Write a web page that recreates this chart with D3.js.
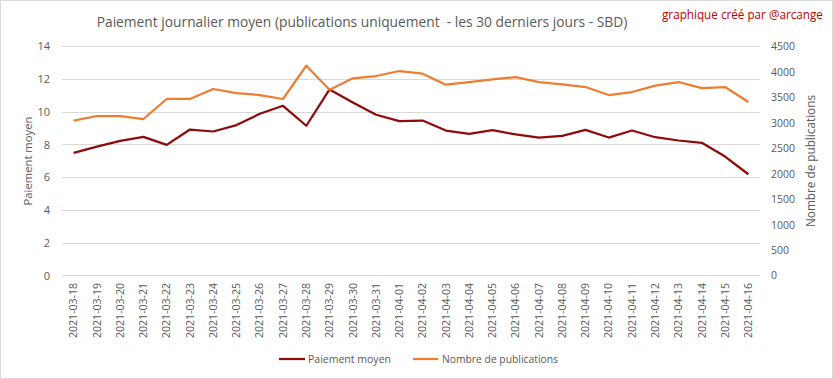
<!DOCTYPE html>
<html><head><meta charset="utf-8">
<script src="https://cdn.jsdelivr.net/npm/d3@7"></script>
<style>body{margin:0;background:#fff}svg{display:block}</style>
</head><body>
<svg id="c" width="833" height="379"></svg>
<script>
const dates = ["2021-03-18","2021-03-19","2021-03-20","2021-03-21","2021-03-22","2021-03-23","2021-03-24","2021-03-25","2021-03-26","2021-03-27","2021-03-28","2021-03-29","2021-03-30","2021-03-31","2021-04-01","2021-04-02","2021-04-03","2021-04-04","2021-04-05","2021-04-06","2021-04-07","2021-04-08","2021-04-09","2021-04-10","2021-04-11","2021-04-12","2021-04-13","2021-04-14","2021-04-15","2021-04-16"];
const paiement = [7.47,7.86,8.21,8.45,7.96,8.9,8.78,9.17,9.86,10.35,9.13,11.35,10.55,9.8,9.41,9.45,8.84,8.64,8.86,8.6,8.41,8.51,8.88,8.41,8.84,8.43,8.23,8.09,7.25,6.17];
const publications = [3034,3126,3126,3067,3460,3460,3656,3577,3538,3460,4113,3642,3866,3911,4009,3956,3740,3793,3846,3891,3793,3748,3695,3538,3597,3721,3793,3675,3695,3400];
const leftTicks = [0,2,4,6,8,10,12,14];
const rightTicks = [0,500,1000,1500,2000,2500,3000,3500,4000,4500];
const title = "Paiement journalier moyen (publications uniquement  - les 30 derniers jours - SBD)";
const credit = "graphique créé par @arcange";
const leftTitle = "Paiement moyen";
const rightTitle = "Nombre de publications";
const seriesNames = ["Paiement moyen","Nombre de publications"];

const FONT = "'Open Sans', sans-serif";
const GRAY = "#595959";
const RED = "#8f0a0a";
const ORANGE = "#ED7D31";

const svg = d3.select("#c");
svg.append("rect").attr("x",0.5).attr("y",0.5).attr("width",832).attr("height",378)
  .attr("fill","#fff").attr("stroke","#d9d9d9");

function fit(sel, w, base){
  sel.style("font-size", base+"px");
  const L = sel.node().getComputedTextLength();
  sel.style("font-size", (base*w/L).toFixed(2)+"px");
  return sel;
}

const x = d3.scaleBand().domain(dates).range([62,760]);
const cx = d => x(d) + x.bandwidth()/2;
const yL = d3.scaleLinear().domain([0,14]).range([275.3,46]);
const yR = d3.scaleLinear().domain([0,4500]).range([275.3,46]);

// gridlines
svg.append("g").selectAll("line").data(leftTicks).join("line")
  .attr("x1",62).attr("x2",760)
  .attr("y1",d=>Math.round(yL(d))+0.5).attr("y2",d=>Math.round(yL(d))+0.5)
  .attr("stroke","#d9d9d9").attr("stroke-width",1);

// left axis
const la = svg.append("g").attr("transform","translate(50,0)")
  .call(d3.axisLeft(yL).tickValues(leftTicks).tickSize(0).tickPadding(0));
la.select(".domain").remove();
la.selectAll("text").attr("fill",GRAY).style("font-family",FONT).style("font-size","11px").attr("dy","0.35em");

// right axis
const ra = svg.append("g").attr("transform","translate(771,0)")
  .call(d3.axisRight(yR).tickValues(rightTicks).tickFormat(d3.format("d")).tickSize(0).tickPadding(0));
ra.select(".domain").remove();
ra.selectAll("text").attr("fill",GRAY).style("font-family",FONT).attr("dy","0.35em")
  .style("font-size","10.5px");

// x axis
const xa = svg.append("g").attr("transform","translate(0,283)")
  .call(d3.axisBottom(x).tickSize(0).tickPadding(0));
xa.select(".domain").remove();
xa.selectAll("text").attr("fill",GRAY).style("font-family",FONT)
  .attr("text-anchor","end").attr("transform","rotate(-90)")
  .attr("x",0).attr("y",0).attr("dy","0.35em")
  .each(function(){ fit(d3.select(this), 55, 11); });

// lines
const lineL = d3.line().x(d=>cx(d.date)).y(d=>yL(d.v));
const lineR = d3.line().x(d=>cx(d.date)).y(d=>yR(d.v));
svg.append("path").datum(dates.map((d,i)=>({date:d,v:paiement[i]})))
  .attr("d",lineL).attr("fill","none").attr("stroke",RED).attr("stroke-width",2.25).attr("stroke-linejoin","round");
svg.append("path").datum(dates.map((d,i)=>({date:d,v:publications[i]})))
  .attr("d",lineR).attr("fill","none").attr("stroke",ORANGE).attr("stroke-width",2.25).attr("stroke-linejoin","round");

// title
const t = svg.append("text").attr("x",362).attr("y",27).attr("text-anchor","middle")
  .attr("fill",GRAY).style("font-family",FONT).style("white-space","pre").text(title);
fit(t, 531, 14);

// credit
const cr = svg.append("text").attr("x",662).attr("y",19).attr("fill","#c00000")
  .style("font-family",FONT).text(credit);
fit(cr, 161, 12);

// axis titles
const lt = svg.append("text").attr("transform","translate(28,161) rotate(-90)")
  .attr("text-anchor","middle").attr("dy","0.35em").attr("fill",GRAY).style("font-family",FONT).text(leftTitle);
fit(lt, 89, 12);
const rt = svg.append("text").attr("transform","translate(811,161) rotate(-90)")
  .attr("text-anchor","middle").attr("dy","0.35em").attr("fill",GRAY).style("font-family",FONT).text(rightTitle);
fit(rt, 132, 12);

// legend
const lg = svg.append("g");
const legItems = [{name:seriesNames[0],color:RED,x1:279,x2:305,tx:308,w:83},
                  {name:seriesNames[1],color:ORANGE,x1:413,x2:438,tx:442,w:116}];
legItems.forEach(it=>{
  lg.append("line").attr("x1",it.x1).attr("x2",it.x2).attr("y1",359).attr("y2",359)
    .attr("stroke",it.color).attr("stroke-width",2.25);
  const tx = lg.append("text").attr("x",it.tx).attr("y",359).attr("dy","0.35em")
    .attr("fill",GRAY).style("font-family",FONT).text(it.name);
  fit(tx, it.w, 11);
});
</script>
</body></html>
